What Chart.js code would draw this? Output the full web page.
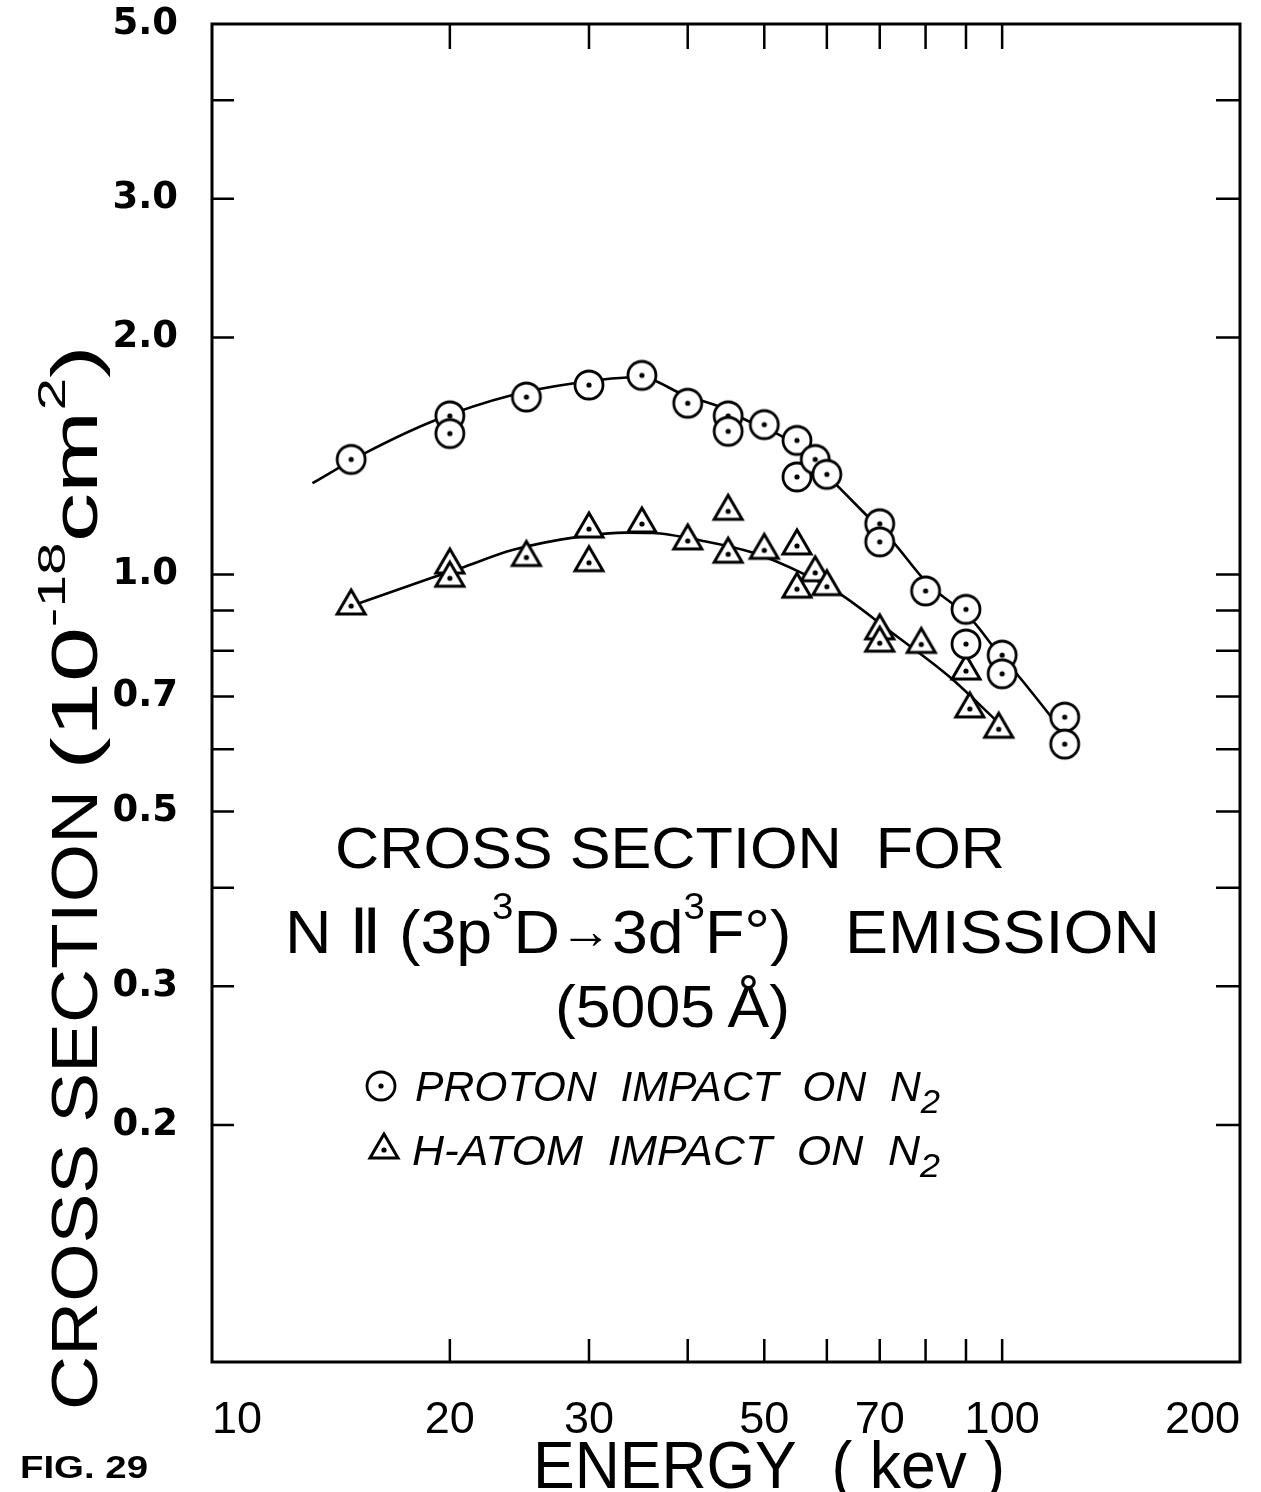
<!DOCTYPE html>
<html>
<head>
<meta charset="utf-8">
<script src="https://cdn.jsdelivr.net/npm/chart.js@4.4.1/dist/chart.umd.min.js"></script>
<style>
  html, body { margin: 0; padding: 0; background: #fff; }
  canvas { display: block; }
</style>
</head>
<body>
<canvas id="myChart" width="1261" height="1492"></canvas>
<script>
// energy in keV, cross section in 10^-18 cm^2
const protonEnergy = [15, 20, 20, 25, 30, 35, 40, 45, 45, 50, 55, 55, 58, 60, 70, 70, 80, 90, 90, 100, 100, 120, 120];
const protonSigma  = [1.40, 1.59, 1.51, 1.68, 1.74, 1.79, 1.65, 1.59, 1.52, 1.55, 1.48, 1.33, 1.40, 1.34, 1.16, 1.10, 0.953, 0.903, 0.816, 0.79, 0.748, 0.659, 0.609];

const hatomEnergy = [15, 20, 20, 25, 30, 30, 35, 40, 45, 45, 50, 55, 58, 55, 60, 70, 70, 79, 90, 91, 99];
const hatomSigma  = [0.912, 1.028, 0.989, 1.051, 1.142, 1.035, 1.159, 1.103, 1.203, 1.061, 1.073, 1.087, 1.005, 0.958, 0.965, 0.848, 0.818, 0.815, 0.754, 0.675, 0.636];

// hand drawn curves through the points
const protonCurveE = [13.4, 15.6, 19.2, 24.0, 28.6, 34.8, 39.6, 43.9, 47.4, 52.3, 55.9, 62.2, 67.3, 72.7, 80.4, 91.6, 98.2, 105, 118];
const protonCurveS = [1.306, 1.425, 1.571, 1.690, 1.748, 1.781, 1.690, 1.633, 1.571, 1.503, 1.439, 1.289, 1.190, 1.101, 0.975, 0.875, 0.802, 0.742, 0.641];

const hatomCurveE = [15.0, 18.9, 20.6, 24.0, 29.2, 33.5, 36.1, 41.8, 48.3, 55.9, 62.2, 72.7, 85.7, 98.2];
const hatomCurveS = [0.912, 0.989, 1.018, 1.074, 1.117, 1.130, 1.129, 1.103, 1.066, 1.003, 0.946, 0.842, 0.742, 0.653];

// axes
const xLabels = [10, 20, 30, 50, 70, 100, 200];
const xMarks = [20, 30, 40, 50, 60, 70, 80, 90, 100];
const yLabels = [0.2, 0.3, 0.5, 0.7, 1.0, 2.0, 3.0, 5.0];
const yMarks = [0.2, 0.3, 0.4, 0.5, 0.6, 0.7, 0.8, 0.9, 1.0, 2.0, 3.0, 4.0];

const textFont = "'Liberation Sans', 'DejaVu Sans', sans-serif";

function makeMarker(kind) {
    const c = document.createElement('canvas');
    c.width = 40; c.height = 40;
    const g = c.getContext('2d');
    g.fillStyle = '#fff';
    g.strokeStyle = '#000';
    g.beginPath();
    if (kind === 'circle') {
        g.lineWidth = 2.8;
        g.arc(20, 20, 14, 0, Math.PI * 2);
    } else {
        g.lineWidth = 3;
        g.moveTo(20, 4);
        g.lineTo(34, 28);
        g.lineTo(6, 28);
        g.closePath();
    }
    g.fill();
    g.stroke();
    g.fillStyle = '#000';
    g.beginPath();
    g.arc(20, 20, 2.6, 0, Math.PI * 2);
    g.fill();
    return c;
}
const circleImg = makeMarker('circle');
const triImg = makeMarker('triangle');

const pts = (xs, ys) => xs.map((x, i) => ({x: x, y: ys[i]}));

// draws text runs (with sup/subscripts) stretched to a given width, from the current origin
function drawRuns(ctx, runs, size, width, style) {
    let natural = 0;
    runs.forEach(r => {
        ctx.font = (style || '') + ' ' + Math.round(size * (r.s || 1)) + 'px ' + textFont;
        r.w = ctx.measureText(r.t).width;
        natural += r.w;
    });
    ctx.scale(width / natural, 1);
    let x = 0;
    runs.forEach(r => {
        ctx.font = (style || '') + ' ' + Math.round(size * (r.s || 1)) + 'px ' + textFont;
        ctx.fillText(r.t, x, (r.dy || 0) * size);
        x += r.w;
    });
}

function textAt(ctx, runs, left, baseline, size, width, style) {
    ctx.save();
    ctx.translate(left, baseline);
    drawRuns(ctx, runs, size, width, style);
    ctx.restore();
}

const background = {
    id: 'background',
    beforeDraw: (chart) => {
        const {ctx} = chart;
        ctx.save();
        ctx.fillStyle = '#ffffff';
        ctx.fillRect(0, 0, chart.width, chart.height);
        ctx.restore();
    }
};

const frame = {
    id: 'frame',
    beforeDatasetsDraw: (chart) => {
        const {ctx, chartArea: a} = chart;
        const xs = chart.scales.x, ys = chart.scales.y;
        ctx.save();
        ctx.strokeStyle = '#000';
        ctx.lineWidth = 3;
        ctx.strokeRect(a.left, a.top, a.right - a.left, a.bottom - a.top);
        ctx.lineWidth = 2.5;
        ctx.beginPath();
        xMarks.forEach(v => {
            const px = xs.getPixelForValue(v);
            ctx.moveTo(px, a.top); ctx.lineTo(px, a.top + 25);
            ctx.moveTo(px, a.bottom); ctx.lineTo(px, a.bottom - 23);
        });
        yMarks.forEach(v => {
            const py = ys.getPixelForValue(v);
            ctx.moveTo(a.left, py); ctx.lineTo(a.left + 22, py);
            ctx.moveTo(a.right, py); ctx.lineTo(a.right - 24, py);
        });
        ctx.stroke();
        ctx.restore();
    }
};

const texts = {
    id: 'texts',
    afterDraw: (chart) => {
        const {ctx} = chart;
        ctx.save();
        ctx.fillStyle = '#000';
        ctx.textAlign = 'left';
        ctx.textBaseline = 'alphabetic';

        // y axis title, rotated; origin at the bottom end of the text
        ctx.save();
        ctx.translate(97, 1410);
        ctx.rotate(-Math.PI / 2);
        textAt(ctx, [{t: 'CROSS SECTION'}], 0, 0, 64, 620, '');
        textAt(ctx, [
            {t: '(10'},
            {t: '-18', s: 0.6, dy: -0.5},
            {t: 'cm'},
            {t: '2', s: 0.6, dy: -0.5},
            {t: ')'}
        ], 640, 0, 64, 425, '');
        ctx.restore();

        // x axis title
        textAt(ctx, [{t: 'ENERGY  ( kev )'}], 533, 1488, 66, 472, '');

        // annotation
        textAt(ctx, [{t: 'CROSS SECTION  FOR'}], 335, 868, 58, 670, '');
        textAt(ctx, [
            {t: 'N \u2161 (3p'},
            {t: '3', s: 0.6, dy: -0.55},
            {t: 'D'},
            {t: '\u2192', s: 0.8, dy: -0.08},
            {t: '3d'},
            {t: '3', s: 0.6, dy: -0.55},
            {t: 'F\u00b0)   EMISSION'}
        ], 285, 953, 62, 875, '');
        textAt(ctx, [{t: '(5005\u2009\u00c5)'}], 555, 1027, 60, 235, '');

        // legend
        ctx.drawImage(circleImg, 381 - 20, 1086 - 20);
        ctx.drawImage(triImg, 384 - 20, 1150 - 20);
        textAt(ctx, [{t: 'PROTON  IMPACT  ON  N'}, {t: '2', s: 0.8, dy: 0.28}], 415, 1101, 42, 525, 'italic');
        textAt(ctx, [{t: 'H-ATOM  IMPACT  ON  N'}, {t: '2', s: 0.8, dy: 0.28}], 412, 1165, 42, 528, 'italic');

        // figure number
        textAt(ctx, [{t: 'FIG. 29'}], 20, 1478, 31, 128, 'bold');
        ctx.restore();
    }
};

const ctx = document.getElementById('myChart');
new Chart(ctx, {
    type: 'scatter',
    data: {
        datasets: [
            {
                label: 'PROTON IMPACT ON N2',
                data: pts(protonEnergy, protonSigma),
                pointStyle: circleImg,
                pointRadius: 14,
                order: 0
            },
            {
                label: 'H-ATOM IMPACT ON N2',
                data: pts(hatomEnergy, hatomSigma),
                pointStyle: triImg,
                pointRadius: 14,
                order: 0
            },
            {
                label: 'proton curve',
                data: pts(protonCurveE, protonCurveS),
                showLine: true,
                pointRadius: 0,
                borderColor: '#000',
                borderWidth: 2.6,
                cubicInterpolationMode: 'monotone',
                order: 1
            },
            {
                label: 'h-atom curve',
                data: pts(hatomCurveE, hatomCurveS),
                showLine: true,
                pointRadius: 0,
                borderColor: '#000',
                borderWidth: 2.6,
                cubicInterpolationMode: 'monotone',
                order: 1
            }
        ]
    },
    options: {
        responsive: false,
        animation: false,
        devicePixelRatio: 1,
        layout: {padding: {top: 24, right: 21, left: 0, bottom: 0}},
        plugins: {
            legend: {display: false},
            tooltip: {enabled: false}
        },
        scales: {
            x: {
                type: 'logarithmic',
                min: 10,
                max: 200,
                afterBuildTicks: (s) => { s.ticks = xLabels.map(v => ({value: v})); },
                afterFit: (s) => { s.height = 130; s.paddingLeft = 0; s.paddingRight = 0; },
                grid: {display: false, drawTicks: false},
                border: {display: false},
                ticks: {
                    autoSkip: false,
                    maxRotation: 0,
                    align: 'inner',
                    padding: 36,
                    color: '#000',
                    font: {family: textFont, size: 45, lineHeight: 1},
                    callback: (v) => String(v)
                }
            },
            y: {
                type: 'logarithmic',
                min: 0.1,
                max: 5,
                afterBuildTicks: (s) => { s.ticks = yLabels.map(v => ({value: v})); },
                afterFit: (s) => { s.width = 212; s.paddingTop = 0; s.paddingBottom = 0; },
                grid: {display: false, drawTicks: false},
                border: {display: false},
                ticks: {
                    autoSkip: false,
                    padding: 34,
                    color: '#000',
                    font: {family: "'DejaVu Sans', sans-serif", size: 37, weight: 'bold', lineHeight: 1},
                    callback: (v) => Number(v).toFixed(1)
                }
            }
        }
    },
    plugins: [background, frame, texts]
});
</script>
</body>
</html>
